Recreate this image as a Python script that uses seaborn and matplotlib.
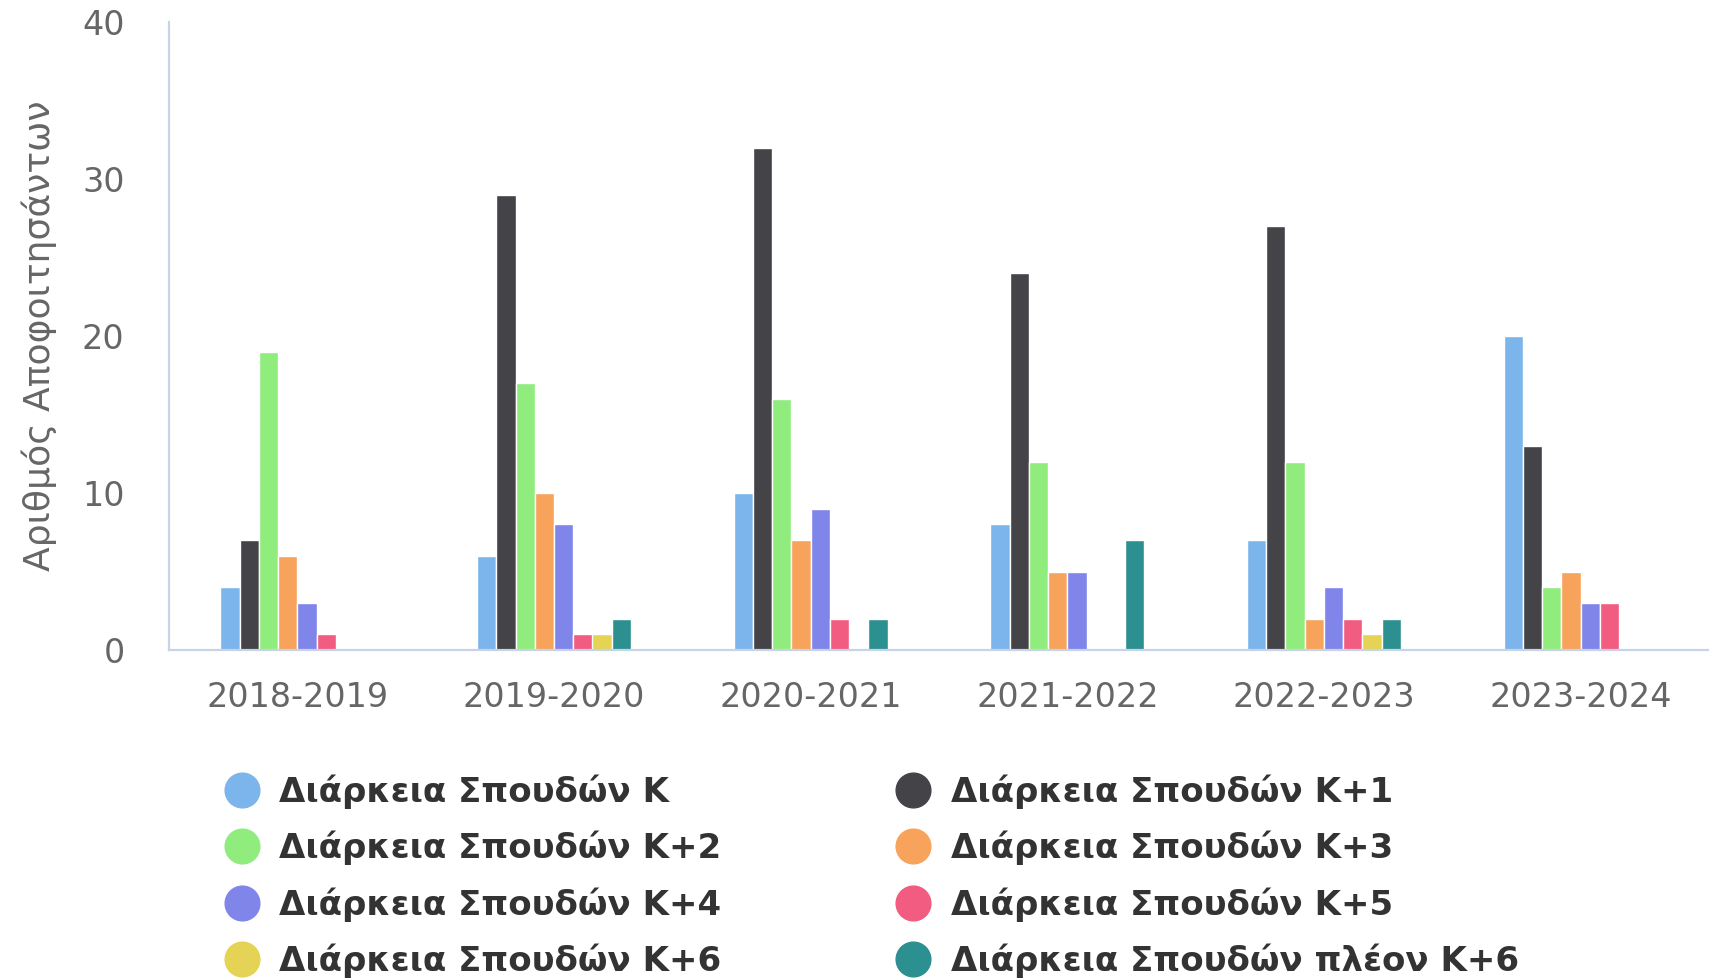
import pandas as pd
import matplotlib
matplotlib.use("Agg")
import matplotlib.pyplot as plt
from matplotlib.lines import Line2D
import seaborn as sns

# data
years = ["2018-2019", "2019-2020", "2020-2021", "2021-2022", "2022-2023", "2023-2024"]
series = [
    "Διάρκεια Σπουδών K",
    "Διάρκεια Σπουδών K+1",
    "Διάρκεια Σπουδών K+2",
    "Διάρκεια Σπουδών K+3",
    "Διάρκεια Σπουδών K+4",
    "Διάρκεια Σπουδών K+5",
    "Διάρκεια Σπουδών K+6",
    "Διάρκεια Σπουδών πλέον K+6",
]
k0 = [4, 6, 10, 8, 7, 20]
k1 = [7, 29, 32, 24, 27, 13]
k2 = [19, 17, 16, 12, 12, 4]
k3 = [6, 10, 7, 5, 2, 5]
k4 = [3, 8, 9, 5, 4, 3]
k5 = [1, 1, 2, 0, 2, 3]
k6 = [0, 1, 0, 0, 1, 0]
k7 = [0, 2, 2, 7, 2, 0]
colors = ["#7cb5ec", "#434348", "#90ed7d", "#f7a35c",
          "#8085e9", "#f15c80", "#e4d354", "#2b908f"]

rows = []
for name, vals in zip(series, [k0, k1, k2, k3, k4, k5, k6, k7]):
    for y, v in zip(years, vals):
        rows.append({"year": y, "series": name, "count": v})
df = pd.DataFrame(rows)

sns.set_theme(style="white")
plt.rcParams["font.family"] = ["DejaVu Sans"]

fig = plt.figure(figsize=(17.09, 9.80), dpi=100)
ax = fig.add_axes([169 / 1709, 1 - 650 / 980, 1 - 169 / 1709, (650 - 22) / 980])

sns.barplot(data=df, x="year", y="count", hue="series", order=years,
            hue_order=series, palette=colors, width=0.6, saturation=1,
            edgecolor="white", linewidth=1, legend=False, ax=ax)

ax.set_ylim(0, 40)
ax.set_xlim(-0.5, 5.5)
ax.set_yticks([0, 10, 20, 30, 40])
ax.set_xlabel("")
ax.set_ylabel("Αριθμός Αποφοιτησάντων", fontsize=26, color="#666666", labelpad=18)
ax.tick_params(axis="both", length=0, labelsize=24, labelcolor="#666666")
ax.tick_params(axis="x", pad=22)
ax.tick_params(axis="y", pad=32)

for s in ["top", "right"]:
    ax.spines[s].set_visible(False)
for s in ["left", "bottom"]:
    ax.spines[s].set_color("#c8d4e6")
    ax.spines[s].set_linewidth(1.6)

# legend, row-major order in two columns
handles = [Line2D([0], [0], marker="o", linestyle="", markersize=25,
                  markerfacecolor=c, markeredgecolor=c) for c in colors]
order = [0, 2, 4, 6, 1, 3, 5, 7]
leg = fig.legend([handles[i] for i in order], [series[i] for i in order],
                 ncol=2, loc="upper left", bbox_to_anchor=(208 / 1709, 1 - 757 / 980),
                 frameon=False, handlelength=1.0, handletextpad=0.6,
                 columnspacing=5.13, labelspacing=0.65, borderpad=0,
                 prop={"size": 24.5, "weight": "bold"})
for t in leg.get_texts():
    t.set_color("#333333")

plt.savefig("out.png", dpi=100)
